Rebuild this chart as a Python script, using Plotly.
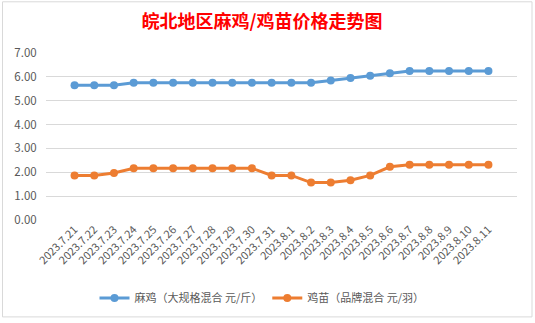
import plotly.graph_objects as go

dates = ["2023.7.21", "2023.7.22", "2023.7.23", "2023.7.24", "2023.7.25", "2023.7.26",
         "2023.7.27", "2023.7.28", "2023.7.29", "2023.7.30", "2023.7.31", "2023.8.1",
         "2023.8.2", "2023.8.3", "2023.8.4", "2023.8.5", "2023.8.6", "2023.8.7",
         "2023.8.8", "2023.8.9", "2023.8.10", "2023.8.11"]
chicken = [5.65, 5.65, 5.65, 5.75, 5.75, 5.75, 5.75, 5.75, 5.75, 5.75, 5.75, 5.75,
           5.75, 5.85, 5.95, 6.05, 6.15, 6.25, 6.25, 6.25, 6.25, 6.25]
chick = [1.87, 1.87, 1.97, 2.17, 2.17, 2.17, 2.17, 2.17, 2.17, 2.17, 1.87, 1.87,
         1.57, 1.57, 1.67, 1.87, 2.23, 2.32, 2.32, 2.32, 2.32, 2.32]
name_chicken = "麻鸡（大规格混合 元/斤）"
name_chick = "鸡苗（品牌混合 元/羽）"
title_text = "皖北地区麻鸡/鸡苗价格走势图"

FONT = "Noto Sans CJK SC, Liberation Sans, sans-serif"

fig = go.Figure()
fig.add_trace(go.Scatter(x=dates, y=chicken, name=name_chicken, mode="lines+markers",
                         line=dict(color="#5B9BD5", width=3),
                         marker=dict(color="#5B9BD5", size=8)))
fig.add_trace(go.Scatter(x=dates, y=chick, name=name_chick, mode="lines+markers",
                         line=dict(color="#ED7D31", width=3),
                         marker=dict(color="#ED7D31", size=8)))

L, R, T, B = 46, 18, 53, 102
W, H = 535, 323
pw, ph = W - L - R, H - T - B

def px(x):
    return (x - L) / pw

def py(y):
    return (H - B - y) / ph

fig.update_layout(
    width=W, height=H,
    margin=dict(l=L, r=R, t=T, b=B, pad=0),
    paper_bgcolor="white", plot_bgcolor="white",
    font=dict(family=FONT, color="#595959", size=11),
    title=dict(text="<b>" + title_text + "</b>", x=262 / W, xanchor="center",
               y=1 - 22 / H, yanchor="middle", yref="container",
               font=dict(family="Noto Sans CJK SC, sans-serif", size=18, color="#FF0000")),
    xaxis=dict(type="category", tickangle=-45, showgrid=False, zeroline=False,
               showline=False, ticks="", tickfont=dict(size=11, color="#595959")),
    yaxis=dict(range=[0, 7], dtick=1, tickformat=".2f", showgrid=True,
               gridcolor="#D9D9D9", gridwidth=1, zeroline=False, showline=False,
               ticks="outside", ticklen=6, tickcolor="rgba(0,0,0,0)",
               tickfont=dict(size=11.5, color="#595959")),
    legend=dict(orientation="h", x=px(262), xanchor="center", y=py(298), yanchor="middle",
                font=dict(size=11, color="#595959"), itemwidth=30,
                bgcolor="rgba(0,0,0,0)"),
    showlegend=True,
    shapes=[dict(type="rect", xref="paper", yref="paper",
                 x0=px(2.5), x1=px(532), y0=py(318.5), y1=py(1.5),
                 line=dict(color="#D9D9D9", width=1), fillcolor="rgba(0,0,0,0)",
                 layer="below")],
)

fig.write_html("out.html")
